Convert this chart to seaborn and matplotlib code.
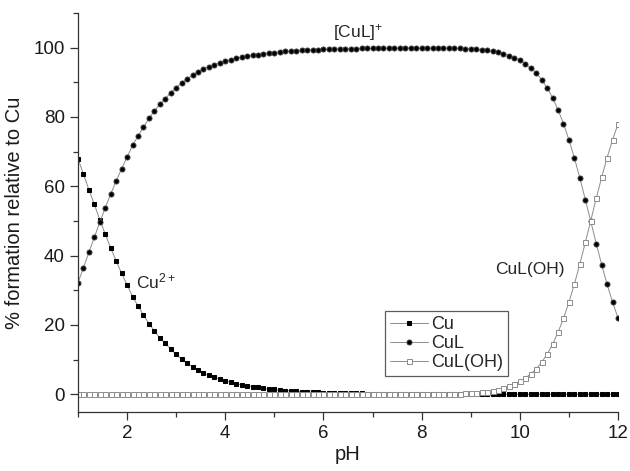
import matplotlib
matplotlib.use('Agg')
import matplotlib.pyplot as plt
import numpy as np
import pandas as pd
import seaborn as sns
from matplotlib.ticker import MultipleLocator

# pH grid: 100 points from 1 to 12
ph = np.linspace(1, 12, 100)

# % formation relative to Cu
cu = [68.0, 63.5, 59.0, 54.8, 50.3, 46.2, 42.2, 38.5, 34.9, 31.6,
      28.2, 25.5, 22.9, 20.4, 18.3, 16.3, 14.7, 13.0, 11.5, 10.2,
      9.0, 7.9, 7.0, 6.1, 5.5, 5.0, 4.4, 3.9, 3.5, 3.1,
      2.7, 2.5, 2.2, 2.0, 1.7, 1.5, 1.4, 1.2, 1.1, 1.0,
      0.9, 0.8, 0.7, 0.65, 0.55, 0.5, 0.45, 0.4, 0.37, 0.33,
      0.3, 0.27, 0.24, 0.2, 0.18, 0.16, 0.14, 0.12, 0.1, 0.09,
      0.08, 0.07, 0.06, 0.05, 0.04, 0.04, 0.03, 0.03, 0.02, 0.02,
      0.02, 0.01, 0.01, 0.0, 0.0, 0.0, 0.0, 0.0, 0.0, 0.0,
      0.0, 0.0, 0.0, 0.0, 0.0, 0.0, 0.0, 0.0, 0.0, 0.0,
      0.0, 0.0, 0.0, 0.0, 0.0, 0.0, 0.0, 0.0, 0.0, 0.0]

cul = [32.2, 36.5, 41.0, 45.3, 49.7, 53.8, 57.8, 61.5, 65.1, 68.4,
       71.8, 74.5, 77.1, 79.6, 81.7, 83.7, 85.3, 87.0, 88.5, 89.8,
       91.0, 92.1, 93.0, 93.9, 94.5, 95.0, 95.6, 96.1, 96.5, 96.9,
       97.3, 97.5, 97.8, 98.0, 98.3, 98.5, 98.6, 98.8, 98.9, 99.0,
       99.1, 99.2, 99.3, 99.35, 99.45, 99.5, 99.55, 99.6, 99.63, 99.67,
       99.7, 99.73, 99.76, 99.8, 99.82, 99.84, 99.86, 99.88, 99.9, 99.9,
       99.9, 99.9, 99.9, 99.9, 99.9, 99.9, 99.9, 99.9, 99.9, 99.85,
       99.8, 99.75, 99.65, 99.55, 99.4, 99.2, 99.0, 98.7, 98.3, 97.7,
       97.1, 96.3, 95.3, 94.1, 92.7, 90.8, 88.4, 85.6, 82.1, 78.1,
       73.4, 68.2, 62.4, 56.2, 49.9, 43.5, 37.4, 31.7, 26.6, 22.0]

culoh = [0.0, 0.0, 0.0, 0.0, 0.0, 0.0, 0.0, 0.0, 0.0, 0.0,
         0.0, 0.0, 0.0, 0.0, 0.0, 0.0, 0.0, 0.0, 0.0, 0.0,
         0.0, 0.0, 0.0, 0.0, 0.0, 0.0, 0.0, 0.0, 0.0, 0.0,
         0.0, 0.0, 0.0, 0.0, 0.0, 0.0, 0.0, 0.0, 0.0, 0.0,
         0.0, 0.0, 0.0, 0.0, 0.0, 0.0, 0.0, 0.0, 0.0, 0.0,
         0.0, 0.0, 0.01, 0.01, 0.01, 0.01, 0.01, 0.02, 0.02, 0.02,
         0.03, 0.03, 0.03, 0.04, 0.05, 0.06, 0.07, 0.09, 0.12, 0.16,
         0.2, 0.26, 0.34, 0.45, 0.6, 0.8, 1.0, 1.3, 1.7, 2.3,
         2.9, 3.7, 4.7, 5.9, 7.3, 9.2, 11.6, 14.4, 17.9, 21.9,
         26.6, 31.8, 37.6, 43.8, 50.1, 56.5, 62.6, 68.3, 73.4, 78.0]

df = pd.DataFrame({'pH': ph, 'Cu': cu, 'CuL': cul, 'CuL(OH)': culoh})

sns.set_style('ticks')
plt.rcParams['font.family'] = ['Liberation Sans', 'DejaVu Sans']
plt.rcParams['mathtext.fontset'] = 'custom'
plt.rcParams['mathtext.rm'] = 'Liberation Sans'
plt.rcParams['mathtext.it'] = 'Liberation Sans:italic'

fig = plt.figure(figsize=(6.3, 4.71), dpi=100)
ax = fig.add_axes([0.1238, 0.126, 0.8572, 0.8464])

line_kw = dict(color='#8c8c8c', linewidth=0.7)
sns.lineplot(data=df, x='pH', y='Cu', ax=ax, marker='s', markersize=3.4,
             markerfacecolor='black', markeredgecolor='black', label='Cu', **line_kw)
sns.lineplot(data=df, x='pH', y='CuL', ax=ax, marker='o', markersize=3.7,
             markerfacecolor='black', markeredgecolor='#444444', markeredgewidth=0.6,
             label='CuL', **line_kw)
sns.lineplot(data=df, x='pH', y='CuL(OH)', ax=ax, marker='s', markersize=3.6,
             markerfacecolor='white', markeredgecolor='#8c8c8c', markeredgewidth=0.7,
             label='CuL(OH)', **line_kw)

ax.set_xlim(1, 12)
ax.set_ylim(-5, 110)
ax.xaxis.set_major_locator(MultipleLocator(2))
ax.xaxis.set_minor_locator(MultipleLocator(1))
ax.yaxis.set_major_locator(MultipleLocator(20))
ax.yaxis.set_minor_locator(MultipleLocator(10))
ax.tick_params(which='major', length=6, width=0.9, labelsize=13.5, color='#333333',
               labelcolor='#1a1a1a')
ax.tick_params(which='minor', length=3.5, width=0.9, color='#333333')
sns.despine(ax=ax)
for s in ['left', 'bottom']:
    ax.spines[s].set_linewidth(0.9)
    ax.spines[s].set_color('#333333')

ax.set_xlabel('pH', fontsize=14.5, labelpad=2, color='#1a1a1a')
ax.set_ylabel('% formation relative to Cu', fontsize=14.5, labelpad=7, color='#1a1a1a')

ax.text(6.7, 104.5, '[CuL]$\\mathregular{^{+}}$', fontsize=12.5, ha='center', va='center')
ax.text(2.18, 32.5, 'Cu$\\mathregular{^{2+}}$', fontsize=12.5, ha='left', va='center')
ax.text(9.49, 35.9, 'CuL(OH)', fontsize=12.5, ha='left', va='center')

leg = ax.legend(loc='lower left', bbox_to_anchor=(0.569, 0.09), fontsize=13,
                frameon=True, fancybox=False, handlelength=2.1, handletextpad=0.2,
                labelspacing=0.12, borderpad=0.25, borderaxespad=0)
leg.get_frame().set_edgecolor('#333333')
leg.get_frame().set_linewidth(0.9)

fig.savefig('out.png', dpi=100)
